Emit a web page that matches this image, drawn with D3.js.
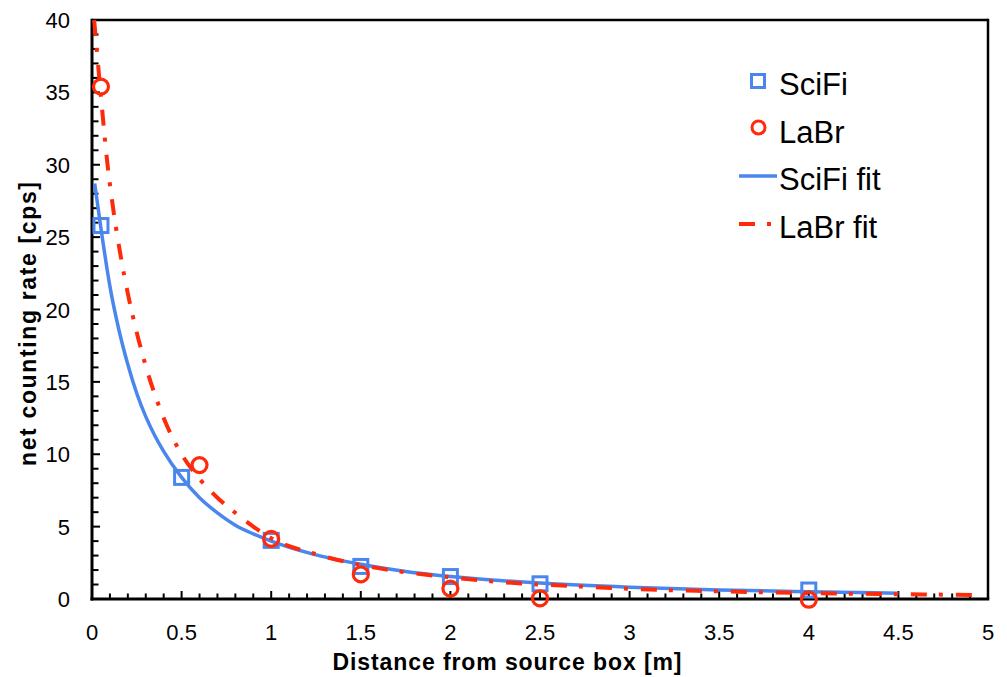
<!DOCTYPE html>
<html>
<head>
<meta charset="utf-8">
<script src="https://cdn.jsdelivr.net/npm/d3@7"></script>
<style>
  html, body { margin: 0; padding: 0; background: #fff; }
  svg { display: block; }
  text { font-family: "Liberation Sans", Arial, sans-serif; fill: #000; }
</style>
</head>
<body>
<svg id="chart" width="1007" height="677"></svg>
<script>
// ---- data ----
const sciFiX = [0.05, 0.5, 1.0, 1.5, 2.0, 2.5, 4.0];
const sciFiY = [25.8, 8.4, 4.05, 2.25, 1.55, 1.05, 0.62];

const laBrX = [0.05, 0.6, 1.0, 1.5, 2.0, 2.5, 4.0];
const laBrY = [35.4, 9.25, 4.15, 1.7, 0.72, 0.05, -0.05];

const sciFiFitX = [0.015, 0.05, 0.1, 0.15, 0.2, 0.25, 0.3, 0.35, 0.4, 0.5, 0.6, 0.7, 0.8, 0.9, 1.0, 1.25, 1.5, 1.75, 2.0, 2.5, 3.0, 3.5, 4.0, 4.5];
const sciFiFitY = [28.7, 25.6, 21.6, 18.6, 16.2, 14.2, 12.6, 11.3, 10.2, 8.4, 7.0, 5.95, 5.1, 4.5, 4.0, 3.05, 2.4, 1.9, 1.55, 1.1, 0.82, 0.63, 0.5, 0.4];

const laBrFitX = [0.012, 0.045, 0.085, 0.12, 0.16, 0.2, 0.25, 0.3, 0.4, 0.5, 0.6, 0.7, 0.8, 0.9, 1.0, 1.25, 1.5, 1.75, 2.0, 2.25, 2.5, 2.75, 3.0, 3.5, 4.0, 4.5, 4.95];
const laBrFitY = [40.0, 35.4, 30.2, 26.8, 23.7, 21.1, 18.4, 16.1, 12.5, 10.0, 8.3, 7.0, 5.95, 5.0, 4.2, 3.1, 2.35, 1.85, 1.5, 1.2, 1.0, 0.85, 0.7, 0.53, 0.41, 0.33, 0.28];

const xTicks = [0, 0.5, 1, 1.5, 2, 2.5, 3, 3.5, 4, 4.5, 5];
const xTickLabels = ["0", "0.5", "1", "1.5", "2", "2.5", "3", "3.5", "4", "4.5", "5"];
const yTicks = [0, 5, 10, 15, 20, 25, 30, 35, 40];
const yTickLabels = ["0", "5", "10", "15", "20", "25", "30", "35", "40"];

const legendLabels = ["SciFi", "LaBr", "SciFi fit", "LaBr fit"];
const xTitle = "Distance from source box [m]";
const yTitle = "net counting rate [cps]";

// ---- layout ----
const blue = "#4a86ee";
const red = "#ff2a0a";
const plot = { left: 92, right: 988, top: 20, bottom: 599 };

const svg = d3.select("#chart");
const x = d3.scaleLinear().domain([0, 5]).range([plot.left, plot.right]);
const y = d3.scaleLinear().domain([0, 40]).range([plot.bottom, plot.top]);

svg.append("defs").append("clipPath").attr("id", "clip")
  .append("rect").attr("x", plot.left).attr("y", plot.top)
  .attr("width", plot.right - plot.left).attr("height", plot.bottom - plot.top);

// minor ticks
const xMinor = d3.range(0, 51).map(d => d / 10);
const yMinor = d3.range(0, 41);

const g = svg.append("g");
g.selectAll("line.xm").data(xMinor).enter().append("line")
  .attr("x1", d => x(d)).attr("x2", d => x(d))
  .attr("y1", plot.bottom)
  .attr("y2", (d, i) => plot.bottom - (i % 5 === 0 ? 8 : 5.5))
  .attr("stroke", "#000").attr("stroke-width", 2);
g.selectAll("line.ym").data(yMinor).enter().append("line")
  .attr("y1", d => y(d)).attr("y2", d => y(d))
  .attr("x1", plot.left)
  .attr("x2", (d, i) => plot.left + (i % 5 === 0 ? 8 : 6.5))
  .attr("stroke", "#000").attr("stroke-width", 2);

// frame
svg.append("line").attr("x1", plot.left).attr("x2", plot.right).attr("y1", plot.top).attr("y2", plot.top)
  .attr("stroke", "#000").attr("stroke-width", 2.5);
svg.append("line").attr("x1", plot.right).attr("x2", plot.right).attr("y1", plot.top - 1.25).attr("y2", plot.bottom)
  .attr("stroke", "#000").attr("stroke-width", 2.5);
svg.append("line").attr("x1", plot.left).attr("x2", plot.left).attr("y1", plot.top - 1.25).attr("y2", plot.bottom + 1.5)
  .attr("stroke", "#000").attr("stroke-width", 3);
svg.append("line").attr("x1", plot.left - 1.5).attr("x2", plot.right + 1.25).attr("y1", plot.bottom).attr("y2", plot.bottom)
  .attr("stroke", "#000").attr("stroke-width", 3);

// tick labels
svg.selectAll("text.xt").data(xTicks).enter().append("text")
  .attr("x", d => x(d)).attr("y", 640)
  .attr("text-anchor", "middle").attr("font-size", 22)
  .text((d, i) => xTickLabels[i]);
svg.selectAll("text.yt").data(yTicks).enter().append("text")
  .attr("x", 70).attr("y", d => y(d) + 8)
  .attr("text-anchor", "end").attr("font-size", 22)
  .text((d, i) => yTickLabels[i]);

// axis titles
svg.append("text").attr("x", 507).attr("y", 670)
  .attr("text-anchor", "middle").attr("font-size", 23).attr("font-weight", "bold")
  .attr("textLength", 349).attr("lengthAdjust", "spacing")
  .text(xTitle);
svg.append("text")
  .attr("transform", "translate(36,324) rotate(-90)")
  .attr("text-anchor", "middle").attr("font-size", 23).attr("font-weight", "bold")
  .attr("textLength", 284).attr("lengthAdjust", "spacing")
  .text(yTitle);

// fits
const line = d3.line().x(d => x(d[0])).y(d => y(d[1])).curve(d3.curveMonotoneX);
const clipG = svg.append("g").attr("clip-path", "url(#clip)");
clipG.append("path").datum(sciFiFitX.map((v, i) => [v, sciFiFitY[i]]))
  .attr("d", line).attr("fill", "none").attr("stroke", blue).attr("stroke-width", 3.5);
clipG.append("path").datum(laBrFitX.map((v, i) => [v, laBrFitY[i]]))
  .attr("d", line).attr("fill", "none").attr("stroke", red).attr("stroke-width", 4)
  .attr("stroke-dasharray", "16,12,4,13");

// markers
const sq = 14;
svg.selectAll("rect.sf").data(sciFiX).enter().append("rect")
  .attr("x", d => x(d) - sq / 2).attr("y", (d, i) => y(sciFiY[i]) - sq / 2)
  .attr("width", sq).attr("height", sq)
  .attr("fill", "none").attr("stroke", blue).attr("stroke-width", 3);
svg.selectAll("circle.lb").data(laBrX).enter().append("circle")
  .attr("cx", d => x(d)).attr("cy", (d, i) => y(laBrY[i]))
  .attr("r", 7.5)
  .attr("fill", "none").attr("stroke", red).attr("stroke-width", 3.2);

// legend
const lg = svg.append("g");
const rowBase = [95, 142.5, 189.5, 237.5];
lg.append("rect").attr("x", 751.5).attr("y", 74.5).attr("width", 13).attr("height", 13)
  .attr("fill", "none").attr("stroke", blue).attr("stroke-width", 3);
lg.append("circle").attr("cx", 758.5).attr("cy", 127.5).attr("r", 6.5)
  .attr("fill", "none").attr("stroke", red).attr("stroke-width", 3);
lg.append("line").attr("x1", 739).attr("x2", 777).attr("y1", 176).attr("y2", 176)
  .attr("stroke", blue).attr("stroke-width", 3.5);
lg.append("line").attr("x1", 739).attr("x2", 777).attr("y1", 224).attr("y2", 224)
  .attr("stroke", red).attr("stroke-width", 4).attr("stroke-dasharray", "16,12,4,13");
lg.selectAll("text.lg").data(legendLabels).enter().append("text")
  .attr("x", 779).attr("y", (d, i) => rowBase[i])
  .attr("font-size", 31)
  .text(d => d);
</script>
</body>
</html>
